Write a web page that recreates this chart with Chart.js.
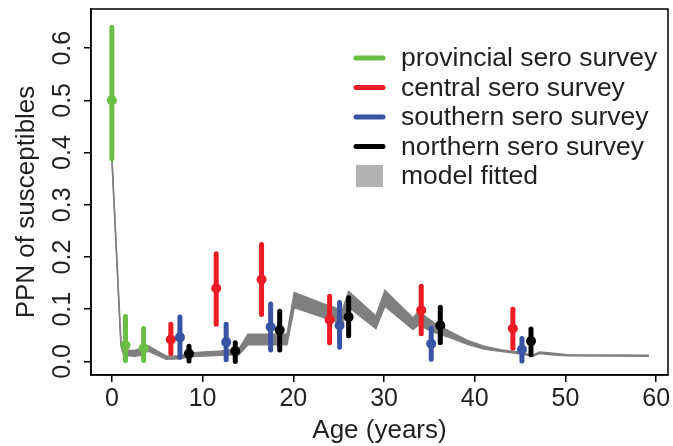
<!DOCTYPE html>
<html>
<head>
<meta charset="utf-8">
<script src="https://cdn.jsdelivr.net/npm/chart.js@4"></script>
<style>
  body { margin: 0; background: #fff; }
  canvas { display: block; }
</style>
</head>
<body>
<canvas id="seroChart" width="673" height="446"></canvas>
<script>
// survey data: age, point estimate, lower / upper bound
const provAge = [0, 1.5, 3.5];
const provVal = [0.50, 0.031, 0.025];
const provLow = [0.388, 0.002, 0.002];
const provHigh = [0.64, 0.086, 0.063];

const centAge = [6.5, 11.5, 16.5, 24, 34.1, 44.2];
const centVal = [0.042, 0.14, 0.157, 0.08, 0.098, 0.063];
const centLow = [0.015, 0.071, 0.09, 0.036, 0.053, 0.025];
const centHigh = [0.071, 0.206, 0.224, 0.125, 0.144, 0.1];

const southAge = [7.5, 12.6, 17.5, 25.1, 35.2, 45.2];
const southVal = [0.046, 0.037, 0.066, 0.069, 0.034, 0.023];
const southLow = [0.008, 0.003, 0.022, 0.027, 0.004, 0.001];
const southHigh = [0.085, 0.071, 0.11, 0.113, 0.063, 0.044];

const northAge = [8.5, 13.6, 18.5, 26.1, 36.2, 46.2];
const northVal = [0.015, 0.02, 0.06, 0.085, 0.069, 0.039];
const northLow = [0.001, 0, 0.022, 0.049, 0.036, 0.013];
const northHigh = [0.029, 0.036, 0.096, 0.122, 0.104, 0.062];

// model fitted band
const modelAge = [0, 1.0, 1.3, 2.5, 3.2, 4.0, 6.0, 7.5, 8.5, 12, 14.0, 15.0, 19.3, 20.1, 24.0, 25.4, 26.1, 29.1, 30.1, 33.2, 33.8, 35.5, 37.4, 39.2, 41, 43, 44.7, 46.4, 47.1, 48.4, 50.2, 59.2];
const modelLow = [0.388, 0.03, 0.012, 0.010, 0.012, 0.02, 0.004, 0.005, 0.009, 0.012, 0.013, 0.032, 0.032, 0.103, 0.08, 0.072, 0.104, 0.063, 0.106, 0.061, 0.07, 0.056, 0.045, 0.033, 0.024, 0.019, 0.015, 0.010, 0.015, 0.013, 0.011, 0.010];
const modelHigh = [0.392, 0.036, 0.022, 0.021, 0.025, 0.03, 0.01, 0.011, 0.016, 0.02, 0.024, 0.052, 0.052, 0.132, 0.106, 0.098, 0.134, 0.087, 0.136, 0.083, 0.096, 0.074, 0.056, 0.04, 0.029, 0.022, 0.018, 0.012, 0.018, 0.016, 0.013, 0.012];

const xTicks = [0, 10, 20, 30, 40, 50, 60];
const yTicks = [0, 0.1, 0.2, 0.3, 0.4, 0.5, 0.6];
const yTickLabels = ['0.0', '0.1', '0.2', '0.3', '0.4', '0.5', '0.6'];

const legendLabels = ['provincial sero survey', 'central sero survey', 'southern sero survey', 'northern sero survey', 'model fitted'];

const GREEN = '#6abd45', RED = '#ed1c24', BLUE = '#3953a4', BLACK = '#000000';
const BAND = '#7f7f7f', BAND_KEY = '#b3b3b3';
const TEXT = '#231f20';
const FONT = '"Liberation Sans", Arial, Helvetica, sans-serif';

function pts(xs, ys) {
    return xs.map((x, i) => ({ x: x, y: ys[i] }));
}

function survey(label, color, age, val, low, high, order) {
    return {
        type: 'scatter',
        label: label,
        data: pts(age, val),
        errLow: low,
        errHigh: high,
        pointRadius: 5,
        pointHoverRadius: 5,
        pointBackgroundColor: color,
        pointBorderWidth: 0,
        borderColor: color,
        order: order
    };
}

const errorBars = {
    id: 'errorBars',
    afterDatasetDraw(chart, args) {
        const ds = chart.data.datasets[args.index];
        if (!ds.errLow) return;
        const ctx = chart.ctx;
        const xs = chart.scales.x, ys = chart.scales.y;
        ctx.save();
        ctx.strokeStyle = ds.borderColor;
        ctx.lineWidth = 5;
        ctx.lineCap = 'round';
        ds.data.forEach((p, i) => {
            const px = xs.getPixelForValue(p.x);
            ctx.beginPath();
            ctx.moveTo(px, ys.getPixelForValue(ds.errLow[i]));
            ctx.lineTo(px, ys.getPixelForValue(ds.errHigh[i]));
            ctx.stroke();
        });
        ctx.restore();
    }
};

const frameAndText = {
    id: 'frameAndText',
    afterDraw(chart) {
        const ctx = chart.ctx;
        const a = chart.chartArea;
        const xs = chart.scales.x, ys = chart.scales.y;
        ctx.save();
        ctx.strokeStyle = '#000';
        ctx.lineWidth = 1.5;
        ctx.strokeRect(a.left, a.top, a.right - a.left, a.bottom - a.top);

        ctx.fillStyle = TEXT;
        ctx.font = '25px ' + FONT;
        ctx.textAlign = 'center';
        ctx.textBaseline = 'middle';
        xTicks.forEach(v => {
            ctx.fillText(String(v), xs.getPixelForValue(v), 399);
        });
        yTicks.forEach((v, i) => {
            ctx.save();
            ctx.translate(63, ys.getPixelForValue(v));
            ctx.rotate(-Math.PI / 2);
            ctx.fillText(yTickLabels[i], 0, 0);
            ctx.restore();
        });

        ctx.font = '26px ' + FONT;
        ctx.fillText('Age (years)', (a.left + a.right) / 2, 431);
        ctx.save();
        ctx.translate(27, (a.top + a.bottom) / 2 + 10);
        ctx.rotate(-Math.PI / 2);
        ctx.fillText('PPN of susceptibles', 0, 0);
        ctx.restore();

        // legend
        const keyColors = [GREEN, RED, BLUE, BLACK];
        const rowY = [58, 87.5, 117, 146.5, 176];
        ctx.font = '26.5px ' + FONT;
        ctx.textAlign = 'left';
        ctx.lineCap = 'round';
        ctx.lineWidth = 5;
        legendLabels.forEach((lab, i) => {
            if (i < 4) {
                ctx.strokeStyle = keyColors[i];
                ctx.beginPath();
                ctx.moveTo(356, rowY[i]);
                ctx.lineTo(383, rowY[i]);
                ctx.stroke();
            } else {
                ctx.fillStyle = BAND_KEY;
                ctx.fillRect(356, rowY[i] - 11, 27, 22);
            }
            ctx.fillStyle = TEXT;
            ctx.fillText(lab, 401, rowY[i] + 1);
        });
        ctx.restore();
    }
};

const axisGrid = {
    display: true,
    drawOnChartArea: false,
    drawTicks: true,
    tickLength: 7,
    color: '#000',
    lineWidth: 1.5
};

const ctx = document.getElementById('seroChart').getContext('2d');
new Chart(ctx, {
    type: 'scatter',
    data: {
        datasets: [
            {
                type: 'line',
                label: 'model low',
                data: pts(modelAge, modelLow),
                borderColor: BAND,
                borderWidth: 1.5,
                pointRadius: 0,
                tension: 0,
                fill: false,
                order: 10
            },
            {
                type: 'line',
                label: 'model fitted',
                data: pts(modelAge, modelHigh),
                borderColor: BAND,
                backgroundColor: BAND,
                borderWidth: 1.5,
                pointRadius: 0,
                tension: 0,
                fill: '-1',
                order: 9
            },
            survey('provincial sero survey', GREEN, provAge, provVal, provLow, provHigh, 4),
            survey('central sero survey', RED, centAge, centVal, centLow, centHigh, 3),
            survey('southern sero survey', BLUE, southAge, southVal, southLow, southHigh, 2),
            survey('northern sero survey', BLACK, northAge, northVal, northLow, northHigh, 1)
        ]
    },
    options: {
        responsive: false,
        animation: false,
        devicePixelRatio: 1,
        layout: { padding: { top: 9, right: 5, left: 0, bottom: 0 } },
        plugins: {
            legend: { display: false },
            tooltip: { enabled: false }
        },
        scales: {
            x: {
                type: 'linear',
                min: -2.3,
                max: 61.3,
                afterBuildTicks: s => { s.ticks = xTicks.map(v => ({ value: v })); },
                afterFit: s => { s.height = 71; },
                ticks: { display: false },
                grid: axisGrid,
                border: { display: true, color: '#000', width: 1.5 }
            },
            y: {
                type: 'linear',
                min: -0.026,
                max: 0.675,
                afterBuildTicks: s => { s.ticks = yTicks.map(v => ({ value: v })); },
                afterFit: s => { s.width = 91; },
                ticks: { display: false },
                grid: axisGrid,
                border: { display: true, color: '#000', width: 1.5 }
            }
        }
    },
    plugins: [errorBars, frameAndText]
});
</script>
</body>
</html>
